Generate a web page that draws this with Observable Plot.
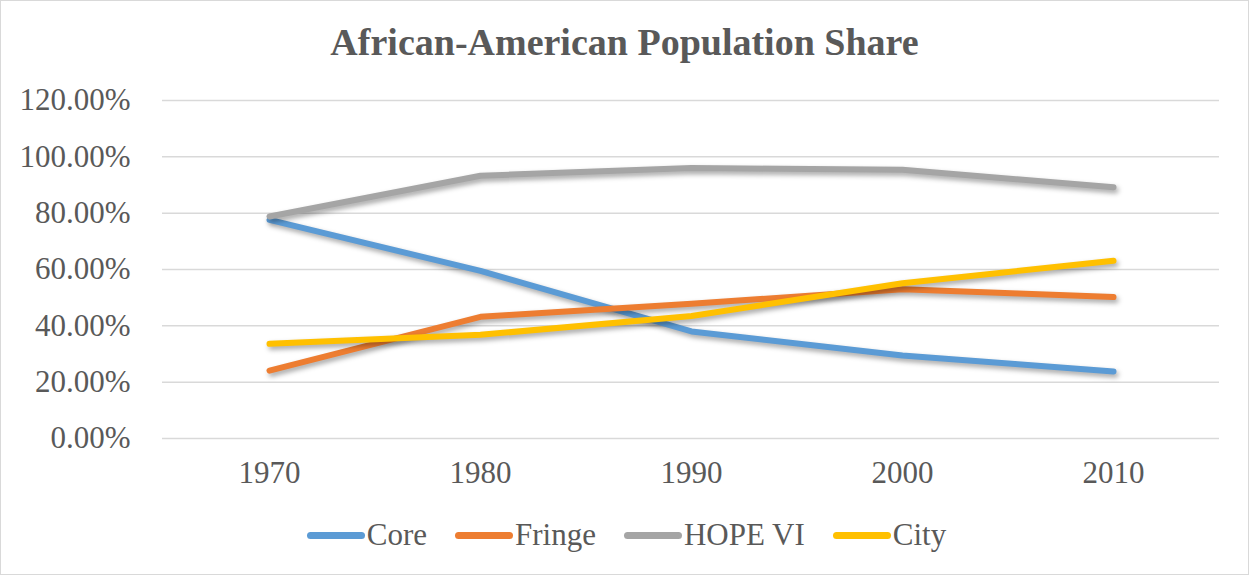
<!DOCTYPE html>
<html>
<head>
<meta charset="utf-8">
<script src="https://cdn.jsdelivr.net/npm/d3@7"></script>
<script src="https://cdn.jsdelivr.net/npm/@observablehq/plot@0.6"></script>
<style>
  html, body { margin: 0; padding: 0; background: #fff; }
  #wrap { position: relative; width: 1249px; height: 575px; box-sizing: border-box; border: 1px solid #d9d9d9; overflow: hidden; font-family: "Liberation Serif", "Times New Roman", serif; color: #595959; }
  #title { height: 79px; box-sizing: border-box; padding-top: 22px; line-height: 38px; text-align: center; font-weight: bold; font-size: 38px; color: #595959; }
  #legend { display: flex; justify-content: center; align-items: center; height: 70px; font-size: 31px; color: #595959; margin-left: 4px; }
  .item { display: flex; align-items: center; margin: 0 14px; }
  .sw { display: inline-block; width: 58px; height: 7px; border-radius: 3.5px; margin-right: 2px; }
  svg g[aria-label="line"] path { filter: drop-shadow(2px 3px 2.5px rgba(0,0,0,0.35)); }
</style>
</head>
<body>
<div id="wrap">
  <div id="title">African-American Population Share</div>
  <div id="chart"></div>
  <div id="legend"></div>
</div>
<script>
const years = ["1970", "1980", "1990", "2000", "2010"];
const seriesNames = ["Core", "Fringe", "HOPE VI", "City"];
const seriesColors = ["#5b9bd5", "#ed7d31", "#a5a5a5", "#ffc000"];
const core = [77.6, 59.5, 38.0, 29.5, 23.8];
const fringe = [24.1, 43.2, 47.8, 53.0, 50.2];
const hope = [78.8, 93.3, 96.0, 95.4, 89.2];
const city = [33.6, 36.8, 43.5, 55.1, 63.1];
const yTicks = [0, 20, 40, 60, 80, 100, 120];

const valuesBySeries = [core, fringe, hope, city];
const data = [];
seriesNames.forEach((s, i) => {
  years.forEach((yr, j) => data.push({series: s, year: yr, value: valuesBySeries[i][j]}));
});

const chart = Plot.plot({
  width: 1247,
  height: 420,
  marginTop: 20,
  marginBottom: 62,
  marginLeft: 161,
  marginRight: 29,
  style: { fontFamily: '"Liberation Serif", "Times New Roman", serif', fontSize: "31px", color: "#595959", background: "transparent" },
  x: { type: "point", domain: years, padding: 0.5, label: null },
  y: { domain: [0, 120], ticks: yTicks, label: null },
  color: { domain: seriesNames, range: seriesColors },
  marks: [
    Plot.gridY(yTicks, { stroke: "#d9d9d9", strokeOpacity: 1, strokeWidth: 1.5 }),
    Plot.axisY(yTicks, { tickSize: 0, tickPadding: 32, tickFormat: d => d.toFixed(2) + "%", fontSize: 31, fill: "#595959", label: null }),
    Plot.axisX({ tickSize: 0, tickPadding: 22, fontSize: 31, fill: "#595959", label: null }),
    Plot.line(data, { x: "year", y: "value", z: "series", stroke: "series", strokeWidth: 6, strokeLinecap: "round", strokeLinejoin: "round" })
  ]
});
document.getElementById("chart").appendChild(chart);

const legend = document.getElementById("legend");
seriesNames.forEach((s, i) => {
  const it = document.createElement("div");
  it.className = "item";
  const sw = document.createElement("span");
  sw.className = "sw";
  sw.style.background = seriesColors[i];
  const tx = document.createElement("span");
  tx.textContent = s;
  it.appendChild(sw);
  it.appendChild(tx);
  legend.appendChild(it);
});
</script>
</body>
</html>
